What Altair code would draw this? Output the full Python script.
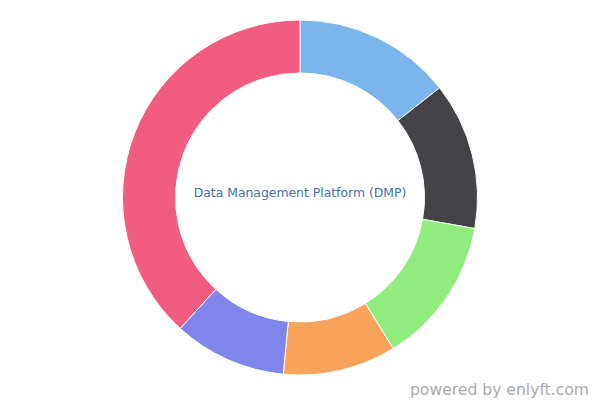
import altair as alt
import pandas as pd

segments = ["Segment 1", "Segment 2", "Segment 3", "Segment 4", "Segment 5", "Segment 6"]
shares = [14.4, 13.4, 13.4, 10.3, 10.3, 38.2]
colors = ["#7cb5ec", "#434348", "#90ed7d", "#f7a35c", "#8085e9", "#f15c80"]
center_title = "Data Management Platform (DMP)"
credit = "powered by enlyft.com"

df = pd.DataFrame({"segment": segments, "share": shares, "idx": list(range(len(segments)))})

W, H = 584, 392
cx, cy = 292, 189.5

arc = alt.Chart(df).mark_arc(
    outerRadius=177.5, innerRadius=124.5, stroke="white", strokeWidth=1
).encode(
    theta=alt.Theta("share:Q", stack=True),
    order=alt.Order("idx:Q"),
    color=alt.Color("segment:N", scale=alt.Scale(domain=segments, range=colors), legend=None),
    x=alt.value(cx),
    y=alt.value(cy),
)

title_text = alt.Chart(pd.DataFrame({"t": [center_title]})).mark_text(
    font="DejaVu Sans", fontSize=12.4, color="#4572A7", align="center", baseline="alphabetic"
).encode(text="t:N", x=alt.value(cx), y=alt.value(189.3))

credit_text = alt.Chart(pd.DataFrame({"t": [credit]})).mark_text(
    font="DejaVu Sans", fontSize=15.6, color="#aaaaaa", align="right", baseline="alphabetic"
).encode(text="t:N", x=alt.value(581), y=alt.value(386.5))

chart = alt.layer(arc, title_text, credit_text).properties(
    width=W, height=H, padding=0, autosize=alt.AutoSizeParams(type="none")
).configure_view(stroke=None)

chart.save("out.html", embed_options={"renderer": "svg", "actions": False})
